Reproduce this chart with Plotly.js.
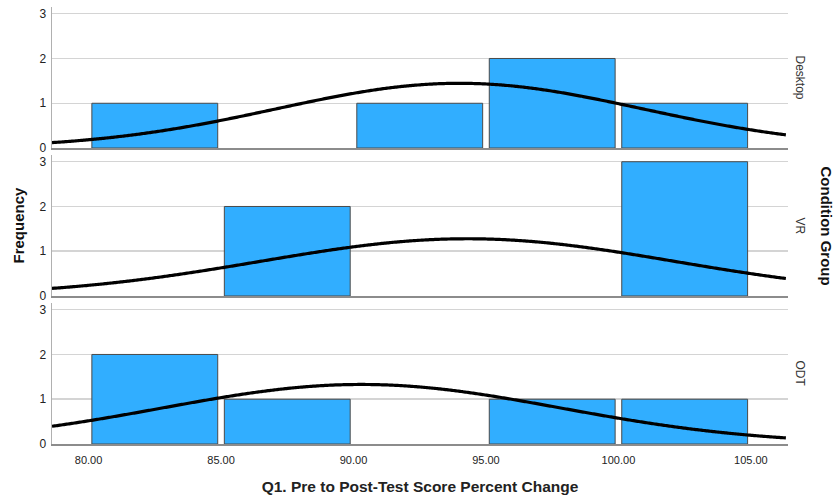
<!DOCTYPE html>
<html>
<head>
<meta charset="utf-8">
<script src="https://cdn.plot.ly/plotly-3.0.1.min.js"></script>
<style>html,body{margin:0;padding:0;background:#fff;} #chart{width:837px;height:497px;}</style>
</head>
<body>
<div id="chart"></div>
<script>
// ---- data ----
const binCenters = [82.5, 87.5, 92.5, 97.5, 102.5];
const desktopCounts = [1, 0, 1, 2, 1];
const vrCounts = [0, 2, 0, 0, 3];
const odtCounts = [2, 1, 0, 1, 1];
const groupNames = ["Desktop", "VR", "ODT"];
// fitted normal curve parameters (estimated from the drawn curves)
const groupMeans = [94.0, 94.3, 90.3];
const groupSDs = [6.9, 7.8, 7.5];
const groupN = [5, 5, 5];
const binWidth = 5;
const xTickVals = [80, 85, 90, 95, 100, 105];
const xTickText = ["80.00", "85.00", "90.00", "95.00", "100.00", "105.00"];

const xRange = [78.62, 106.4];
const countsList = [desktopCounts, vrCounts, odtCounts];

function normalCurve(mean, sd, n) {
  const xs = [], ys = [];
  for (let x = xRange[0]; x <= xRange[1] + 1e-9; x += 0.1) {
    xs.push(x);
    const z = (x - mean) / sd;
    ys.push(n * binWidth * Math.exp(-0.5 * z * z) / (sd * Math.sqrt(2 * Math.PI)));
  }
  return {xs, ys};
}

const traces = [];
const axisSuffix = ["", "2", "3"];
countsList.forEach((counts, i) => {
  const xa = "x" + axisSuffix[i], ya = "y" + axisSuffix[i];
  traces.push({
    type: "bar", x: binCenters, y: counts.map(v => v === 0 ? null : v), width: 4.75,
    xaxis: xa, yaxis: ya,
    marker: {color: "#31aeff", line: {color: "#4a4a4a", width: 1}},
    hoverinfo: "skip", showlegend: false
  });
  const c = normalCurve(groupMeans[i], groupSDs[i], groupN[i]);
  traces.push({
    type: "scatter", mode: "lines", x: c.xs, y: c.ys,
    xaxis: xa, yaxis: ya,
    line: {color: "#000", width: 3.2, shape: "spline"},
    hoverinfo: "skip", showlegend: false
  });
});

const domains = [[0.6773, 1], [0.3387, 0.6613], [0, 0.3227]];
const tickFont = {family: "Liberation Sans, Arial, sans-serif", size: 11, color: "#222"};

const layout = {
  width: 837, height: 497,
  margin: {l: 52, r: 49, t: 7, b: 53},
  paper_bgcolor: "#fff", plot_bgcolor: "#fff",
  showlegend: false,
  annotations: [],
  font: {family: "Liberation Sans, Arial, sans-serif"}
};

countsList.forEach((_, i) => {
  const s = axisSuffix[i];
  const xa = {
    range: xRange, anchor: "y" + s,
    tickvals: xTickVals, ticktext: xTickText,
    showticklabels: i === 2, ticks: "",
    showgrid: false, zeroline: false,
    showline: true, linecolor: "#8c8c8c", linewidth: 2,
    tickfont: tickFont, ticklabelstandoff: 5
  };
  if (i > 0) xa.matches = "x";
  layout["xaxis" + s] = xa;
  layout["yaxis" + s] = {
    domain: domains[i], anchor: "x" + s,
    range: [0, 3.15], tickvals: [0, 1, 2, 3],
    ticks: "", showgrid: true, gridcolor: "#d4d4d4", gridwidth: 1.5,
    zeroline: false, showline: true, linecolor: "#b0b0b0", linewidth: 1.5,
    tickfont: {family: "Liberation Sans, Arial, sans-serif", size: 12, color: "#222"},
    ticklabelstandoff: 2
  };
  layout.annotations.push({
    text: groupNames[i], xref: "paper", yref: "paper",
    x: 1 + 12 / 736, y: (domains[i][0] + domains[i][1]) / 2,
    xanchor: "center", yanchor: "middle", textangle: 90, showarrow: false,
    font: {family: "Liberation Sans, Arial, sans-serif", size: 12, color: "#333"}
  });
});
layout.xaxis3.title = {
  text: "<b>Q1. Pre to Post-Test Score Percent Change</b>",
  font: {family: "Liberation Sans, Arial, sans-serif", size: 15.5, color: "#222"},
  standoff: 16
};
layout.annotations.push({
  text: "<b>Frequency</b>", xref: "paper", yref: "paper",
  x: -34 / 736, y: 0.5, xanchor: "center", yanchor: "middle",
  textangle: -90, showarrow: false,
  font: {family: "Liberation Sans, Arial, sans-serif", size: 15, color: "#111"}
});
layout.annotations.push({
  text: "<b>Condition Group</b>", xref: "paper", yref: "paper",
  x: 1 + 38 / 736, y: 0.5, xanchor: "center", yanchor: "middle",
  textangle: 90, showarrow: false,
  font: {family: "Liberation Sans, Arial, sans-serif", size: 15, color: "#111"}
});

Plotly.newPlot("chart", traces, layout, {staticPlot: true, displayModeBar: false});
</script>
</body>
</html>
